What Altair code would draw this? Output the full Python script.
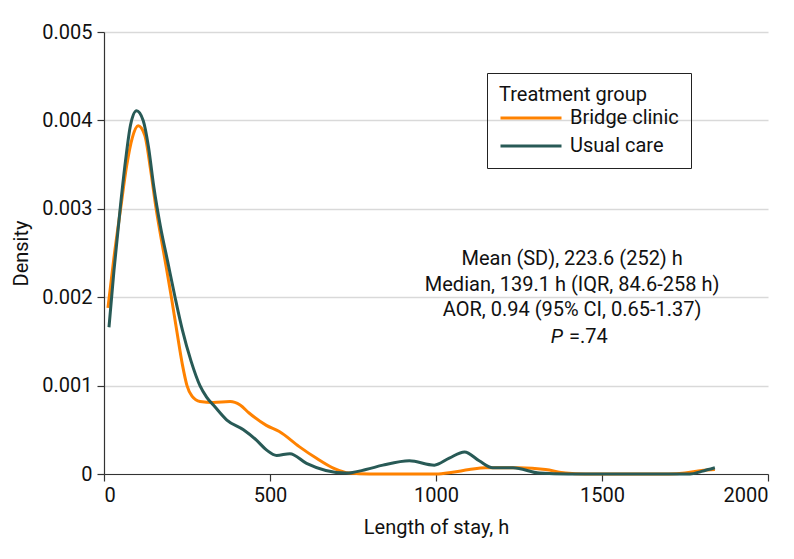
import altair as alt
import pandas as pd

# Bridge clinic density curve
bridge_x = [12, 30, 50, 68, 85, 103, 123, 140, 157, 180, 203, 220, 236, 250, 265, 289,
            329, 380, 410, 437, 489, 528, 588, 639, 689, 740, 800, 1000, 1050, 1100, 1150,
            1250, 1330, 1390, 1450, 1700, 1750, 1800, 1840]
bridge_y = [0.00188, 0.00245, 0.00300, 0.00348, 0.00380, 0.00394, 0.00383, 0.00345, 0.00300,
            0.00250, 0.00200, 0.00160, 0.00124, 0.00100, 0.00088, 0.00082,
            0.00081, 0.00082, 0.00078, 0.00069, 0.00055, 0.00048, 0.00031, 0.00018,
            0.00007, 0.00001, 0.0, 0.0, 0.00002, 0.00005, 0.00007,
            0.00007, 0.00005, 0.00001, 0.0, 0.0, 0.00001, 0.00004, 0.00005]

# Usual care density curve
usual_x = [15, 30, 50, 65, 80, 98, 118, 134, 150, 170, 192, 214, 236, 262, 289, 309, 334,
           370, 420, 460, 490, 520, 560, 610, 668, 729, 789, 840, 920, 995, 1040, 1086,
           1130, 1171, 1232, 1312, 1400, 1765, 1800, 1840]
usual_y = [0.00166, 0.00230, 0.00305, 0.00355, 0.00395, 0.00411, 0.00400, 0.00370, 0.00325,
           0.00280, 0.00240, 0.00200, 0.00163, 0.00128, 0.00100, 0.00087, 0.00076,
           0.00061, 0.00050, 0.00038, 0.00027, 0.00021, 0.00023, 0.00012, 0.00004,
           0.00001, 0.00005, 0.00010, 0.00015, 0.00010, 0.00018, 0.00025,
           0.00015, 0.00007, 0.00007, 0.00001, 0.0, 0.0, 0.00003, 0.00007]

groups = ["Bridge clinic", "Usual care"]
colors = ["#FF8200", "#285A56"]

x_ticks = [0, 500, 1000, 1500, 2000]
y_ticks = [0, 0.001, 0.002, 0.003, 0.004, 0.005]

note_lines = ["Mean (SD), 223.6 (252) h",
              "Median, 139.1 h (IQR, 84.6-258 h)",
              "AOR, 0.94 (95% CI, 0.65-1.37)"]
note_x = 1410
note_y = [0.00243, 0.00214, 0.00185]
p_label = "P"
p_value = "=.74"
p_y = 0.00155

FONT = "Roboto"

df = pd.concat([
    pd.DataFrame({"x": bridge_x, "y": bridge_y, "group": groups[0]}),
    pd.DataFrame({"x": usual_x, "y": usual_y, "group": groups[1]}),
])

lines = alt.Chart(df).mark_line(strokeWidth=3, interpolate="monotone").encode(
    x=alt.X("x:Q", scale=alt.Scale(domain=[0, 2000], nice=False),
            axis=alt.Axis(values=x_ticks, title="Length of stay, h", grid=False,
                          format="d", labelPadding=4, titlePadding=12)),
    y=alt.Y("y:Q", scale=alt.Scale(domain=[0, 0.005], nice=False),
            axis=alt.Axis(values=y_ticks, title="Density", grid=True,
                          labelExpr="datum.value == 0 ? '0' : format(datum.value, '.3f')",
                          labelPadding=5, titlePadding=10)),
    color=alt.Color("group:N", scale=alt.Scale(domain=groups, range=colors),
                    legend=alt.Legend(title="Treatment group", orient="none",
                                      legendX=383, legendY=41,
                                      symbolType="stroke", symbolSize=3721,
                                      symbolStrokeWidth=3, clipHeight=20,
                                      rowPadding=8, titlePadding=3,
                                      labelOffset=7, padding=12,
                                      strokeColor="#222222",
                                      titleFontSize=20, labelFontSize=20,
                                      titleFont=FONT, labelFont=FONT,
                                      titleFontWeight="normal",
                                      titleColor="#111111", labelColor="#111111")),
)

notes_df = pd.DataFrame({"x": [note_x] * len(note_lines), "y": note_y, "t": note_lines})
notes = alt.Chart(notes_df).mark_text(font=FONT, fontSize=20, color="#111111",
                                      align="center", baseline="middle").encode(
    x="x:Q", y="y:Q", text="t:N")

p_df = pd.DataFrame({"x": [note_x], "y": [p_y], "p": [p_label], "v": [p_value]})
p_italic = alt.Chart(p_df).mark_text(font=FONT, fontSize=20, fontStyle="italic",
                                     color="#111111", align="right", baseline="middle",
                                     dx=-9).encode(x="x:Q", y="y:Q", text="p:N")
p_val = alt.Chart(p_df).mark_text(font=FONT, fontSize=20, color="#111111",
                                  align="left", baseline="middle",
                                  dx=-3).encode(x="x:Q", y="y:Q", text="v:N")

chart = alt.layer(lines, notes, p_italic, p_val).properties(
    width=664, height=442,
    autosize=alt.AutoSizeParams(type="none"),
    padding={"left": 96, "top": 24, "right": 18, "bottom": 77},
).configure_view(stroke=None).configure_axis(
    labelFont=FONT, titleFont=FONT, labelFontSize=20, titleFontSize=20,
    labelColor="#111111", titleColor="#111111", titleFontWeight="normal",
    domainColor="#333333", tickColor="#333333", domainWidth=1.2, tickWidth=1.2,
    tickSize=7, gridColor="#d9d9d9", gridWidth=1.5,
)

chart.save("out.html", embed_options={"renderer": "svg", "actions": False})
